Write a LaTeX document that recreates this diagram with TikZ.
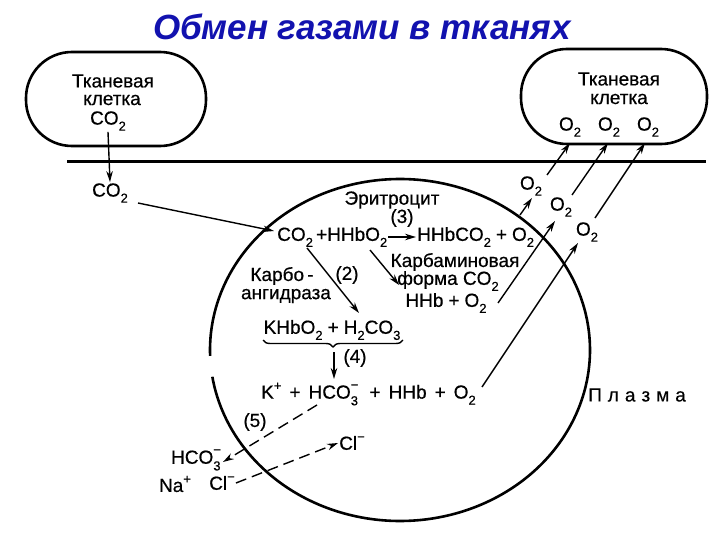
\documentclass[tikz,border=0pt]{standalone}
\usepackage{fontspec}
\setmainfont{Liberation Sans}
\newfontfamily\bodyf{Liberation Sans}[FakeBold=0.5]
\usetikzlibrary{arrows.meta,decorations.pathreplacing}
\definecolor{titleblue}{RGB}{18,18,175}
\newcommand\dn[1]{\raisebox{-0.32em}{\fontsize{13}{13}\selectfont #1}}
\newcommand\upx[1]{\raisebox{0.45em}{\fontsize{13}{13}\selectfont #1}}
\newcommand\ud[2]{\rlap{\raisebox{-0.35em}{\fontsize{13}{13}\selectfont #1}}\raisebox{0.5em}{\fontsize{13}{13}\selectfont #2}}
\newcommand\pl{\hspace{5pt}+\hspace{5pt}}
\newcommand\plw{\hspace{8pt}+\hspace{8pt}}
\begin{document}
\begin{tikzpicture}[x=1pt,y=-1pt,
  every node/.style={inner sep=1pt, font=\bodyf\fontsize{19}{21}\selectfont},
  titlestyle/.style={font=\fontsize{35}{40}\selectfont\bfseries\itshape, text=titleblue},
  cellbox/.style={draw, line width=2.6pt, rounded corners=46pt},
  arr/.style={-{Stealth[length=11pt,width=6.5pt]}, line width=1.4pt},
  darr/.style={arr, dash pattern=on 11pt off 6pt},
  membrane/.style={line width=2.6pt}]
\fill[white] (0,0) rectangle (720,540);
\useasboundingbox (0,0) rectangle (720,540);

\node[titlestyle] (title) at (362,27) {Обмен газами в тканях};

% tissue cells
\draw[cellbox] (26,52) rectangle (206,146);
\draw[cellbox] (521,49) rectangle (707,144);
\node (tl1) at (113,81) {Тканевая};
\node (tl2) at (112,100) {клетка};
\node (co2a) at (108,121) {CO\dn{2}};
\node (tr1) at (619,79) {Тканевая};
\node (tr2) at (619,99) {клетка};
\node (c1) at (570,127) {O\dn{2}};
\node (c2) at (609,127) {O\dn{2}};
\node (c3) at (648,127) {O\dn{2}};

% capillary wall
\coordinate (hl) at (67,162);
\coordinate (hr) at (706,162);
\draw[line width=3pt] (hl) -- (hr);

% erythrocyte
\draw[membrane] plot[domain=178:531, samples=240, smooth] ({400+190*cos(\x)},{350+171*sin(\x)});

% CO2 path
\node (co2b) at (110,193) {CO\dn{2}};
\draw[arr] (co2a.south) -- (co2b.north);
\coordinate (a1s) at (138,203);
\coordinate (a1e) at (274,231);
\draw[arr] (a1s) -- (a1e);

\node (ery) at (392,200) {Эритроцит};
\node (n3) at (402,218) {(3)};
\node[anchor=west] (r1) at (276,237) {CO\dn{2}\,+HHbO\dn{2}};
\node[anchor=west] (r2) at (416,237) {HHbCO\dn{2}\pl O\dn{2}};
\draw[arr] (r1.east) -- (r2.west);

\node (karbo1) at (282,276) {Карбо\,-};
\node (karbo2) at (286,296) {ангидраза};
\node (n2) at (347,275) {(2)};
\coordinate (a2s) at (307,248);
\coordinate (a2e) at (359,313);
\draw[arr] (a2s) -- (a2e);

\node (kb1) at (455,262) {Карбаминовая};
\node (kb2) at (448,281) {форма CO\dn{2}};
\node (kb3) at (446,303) {HHb\pl O\dn{2}};
\coordinate (a3s) at (370,250);
\coordinate (a3e) at (399,285);
\draw[arr] (a3s) -- (a3e);

\node (khb) at (332,330) {KHbO\dn{2}\pl H\dn{2}CO\dn{3}};
\draw[decorate, decoration={brace, mirror, amplitude=7pt}, line width=1.4pt] (263,340) -- (403,340);
\coordinate (a4s) at (334,352);
\coordinate (a4e) at (334,379);
\draw[arr] (a4s) -- (a4e);
\node (n4) at (355,358) {(4)};

\node[anchor=west] (kline) at (260,394) {K\upx{+}\plw HCO\ud{3}{−}\,\plw HHb\plw O\dn{2}};
\node[anchor=west] (plasma) at (587,395) {П\hspace{6pt}л\hspace{6pt}а\hspace{6pt}з\hspace{6pt}м\hspace{6pt}а};

% O2 paths
\node (o2L) at (531,186) {O\dn{2}};
\node (o2M) at (561,207) {O\dn{2}};
\node (o2R) at (587,232) {O\dn{2}};
\coordinate (l1s) at (520,215);
\coordinate (l1e) at (532,198);
\coordinate (l2s) at (498,303);
\coordinate (l2e) at (555,221);
\coordinate (l3s) at (482,387);
\coordinate (l3e) at (578,243);
\draw[arr] (l1s) -- (l1e);
\draw[arr] (l2s) -- (l2e);
\draw[arr] (l3s) -- (l3e);
\coordinate (u1s) at (547,175);
\coordinate (u1e) at (570,143);
\coordinate (u2s) at (572,195);
\coordinate (u2e) at (608,143);
\coordinate (u3s) at (595,218);
\coordinate (u3e) at (645,143);
\draw[arr] (u1s) -- (u1e);
\draw[arr] (u2s) -- (u2e);
\draw[arr] (u3s) -- (u3e);

% chloride shift
\node (n5) at (255,422) {(5)};
\node (hco) at (196,460) {HCO\ud{3}{−}};
\node (na) at (175,484) {Na\upx{+}};
\node (cl1) at (222,483) {Cl\upx{−}};
\node (cl2) at (352,443) {Cl\upx{−}};
\coordinate (d1s) at (317,405);
\coordinate (d1e) at (223,462);
\draw[darr] (d1s) -- (d1e);
\draw[darr] (cl1.east) -- (cl2.west);
\end{tikzpicture}
\end{document}
